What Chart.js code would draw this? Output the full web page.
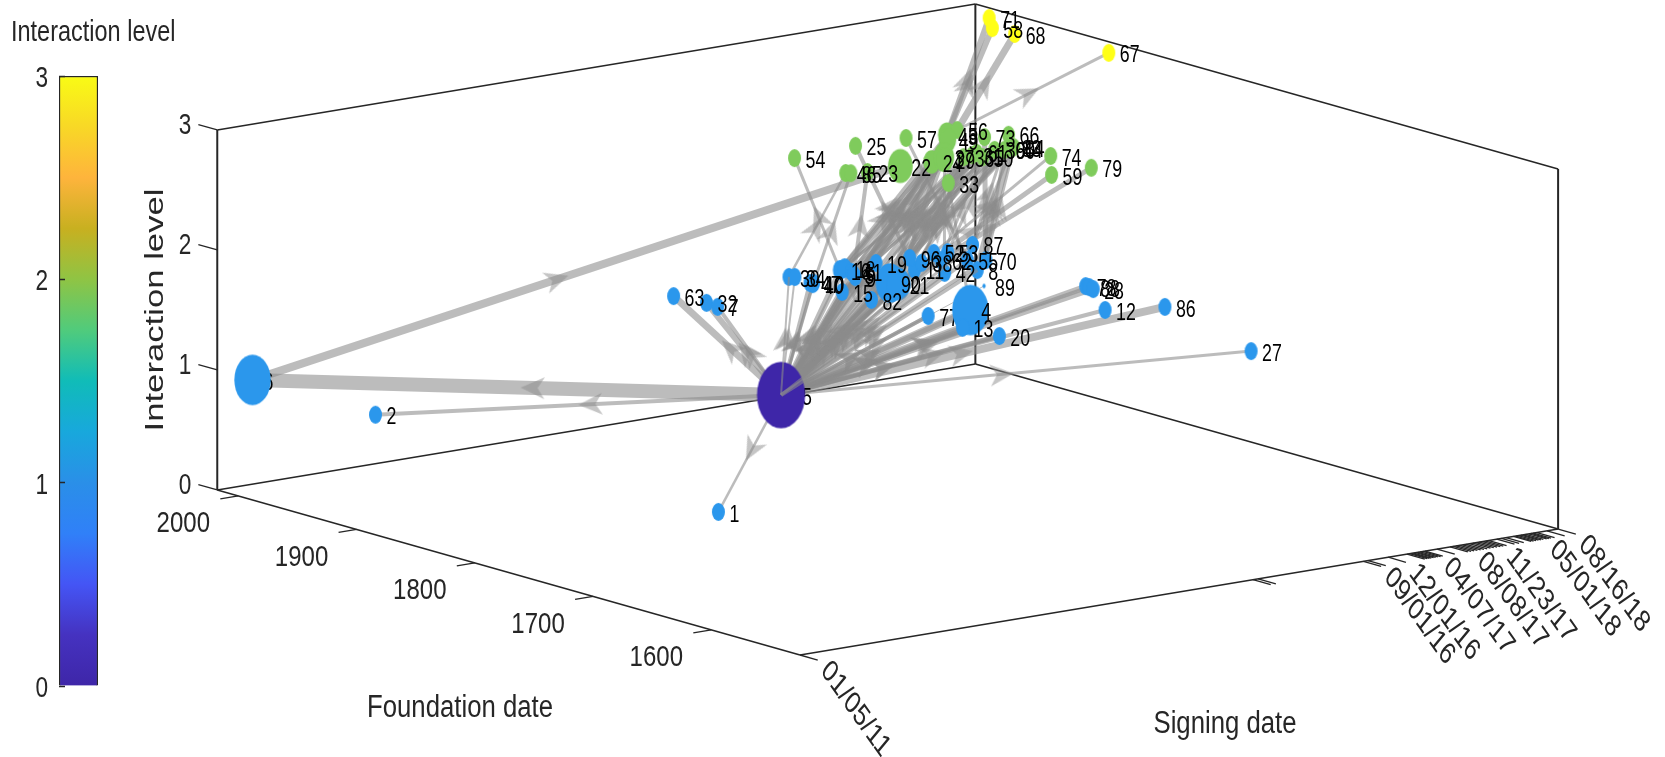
<!DOCTYPE html>
<html>
<head>
<meta charset="utf-8">
<title>Interaction level</title>
<script src="https://cdn.jsdelivr.net/npm/chart.js@4/dist/chart.umd.min.js"></script>
<style>
html, body { margin: 0; padding: 0; background: #fff; overflow: hidden; }
canvas { position: absolute; left: 0; top: 0; }
</style>
</head>
<body>
<canvas id="colorbar" width="99" height="757"></canvas>
<canvas id="network" width="1665" height="757"></canvas>
<script>
/*****
 data
******/
/* nodes, same order in every array. signingDay = days after 01/05/11 */
const nodeId = [35,
    1,2,6,63,32,7,30,34,47,40,10,16,18,41,9,5,15,82,19,90,21,11,96,38,52,53,62,42,55,87,70,8,89,4,13,77,20,78,88,28,12,86,27,
    54,25,57,46,85,23,22,45,56,49,24,37,29,33,36,31,61,50,73,66,60,83,84,44,39,74,59,79,
    71,58,68,67];
const signingDay = [2077,
    0,0,0,1657,1678,1671,2080,2093,2079,2076,2088,2254,2280,2266,2232,2252,2080,2083,2395,2264,2274,2428,2514,2501,2611,2649,2568,2473,2630,2766,2672,2571,2457,2229,2066,2083,2084,2691,2691,2684,2541,2704,2543,
    2083,2324,2505,2080,2090,2138,2263,2625,2688,2584,2369,2435,2416,2235,2482,2518,2547,2526,2693,2768,2636,2672,2679,2668,2613,2693,2540,2690,
    2697,2622,2626,2689];
const foundationYear = [2020,
    1594,1884,1988,2014,1991,1980,2014,2012,1996,1993,1995,2011,2013,2004,1993,1999,1969,1945,2013,1971,1966,1988,2012,1999,2014,2011,1998,1973,1990,2017,1984,1968,1936,1895,1864,1897,1837,1904,1901,1896,1853,1840,1730,
    2010,2014,2013,1966,1964,1961,1962,2006,2012,1996,1960,1965,1960,1915,1959,1960,1963,1953,1990,1987,1960,1963,1962,1961,1963,1934,1898,1899,
    1987,1967,1949,1884];
const interactionLevel = [0,
    1,1,1,1,1,1,1,1,1,1,1,1,1,1,1,1,1,1,1,1,1,1,1,1,1,1,1,1,1,1,1,1,1,1,1,1,1,1,1,1,1,1,1,
    2,2,2,2,2,2,2,2,2,2,2,2,2,2,2,2,2,2,2,2,2,2,2,2,2,2,2,2,
    3,3,3,3];
const nodeWeight = [3.7,
    1,1,2.8,1,1,1,1,1,1,1,1,1.1,1.1,1,1,1,1,1,1,2.2,1.8,1,1,1,1,1,1,1,1,1,1,1,0.25,2.8,1,1,1,1,1,1,1,1,1,
    1,1,1,1,1,1,1.9,1.4,1,1.3,1.3,1.6,1.3,1,1,1,1,1,1,1,1,1,1,1,1,1,1,1,
    1,1,1,1];
/* labels that sit under a node */
const coveredLabels = [35, 6, 77];

/* edges */
const edgeFrom = [35,35,35,35,35,35,35,35,35,35,35,35,35,35,35,35,35,35,35,35,35,35,35,35,35,35,35,35,35,35,35,35,35,35,35,35,35,35,35,35,35,35,35,
    16,11,55,30,10,5,6,21,19,90,90,21,42,4,38,96,11,62,70,87,70,8,70,55,53,52,21,21,
    45,45,56,56,
    35,35,35,35,35,35,16,18,41,9,5,18,41,16,9,5,15,82,90,90,21,
    35,35,35,35,35,35,35,35,35,
    35,35,35,35,35,35,35,16,18,41,9,90,21];
const edgeTo = [1,2,6,63,32,7,30,34,47,40,10,16,18,41,9,5,15,82,19,90,21,11,96,38,52,53,62,42,55,87,70,8,89,4,13,77,20,78,88,28,12,86,27,
    54,25,57,46,85,23,22,45,56,49,24,37,29,33,36,31,61,50,73,66,60,83,84,44,39,74,59,79,
    71,58,68,67,
    24,29,37,36,61,50,24,37,29,49,36,31,61,50,60,83,39,44,36,61,31,
    90,21,77,13,4,20,11,15,9,
    45,49,31,39,60,83,84,45,49,56,61,50,60];
const edgeWeight = [2.5,4,14,7,6,4,2,2,4,3,3,5,4,4,4,3,4,4,4,7,7,4,4,4,3,3,4,5,4,3,4,4,1,8,8,4,5,5,4,5,4,8,3,
    3,4,3,2.5,3,4,8,4,3,5,5,4,3,3,3,3,3,3,5,3,3,7,3,3,3,3,5,5,
    6,6,7,3,
    4,4,4,3,3,3,4,5,4,4,4,3,4,3,3,3,3,3,4,4,4,
    5,5,4,5,5,4,4,4,4,
    4,4,4,4,4,4,4,4,4,3,4,4,3];
const edgesOverNodes = [30, 87, 8];

/* axes */
const signingRange    = [0, 2780];
const foundationRange = [1525, 2017.8];
const levelRange      = [0, 3];
const signingTicks = [0,1661,1680,2066,2083,2157,2226,2235,2243,2250,2258,2266,2274,2284,2292,2336,
    2384,2396,2407,2419,2431,2443,2455,2467,2479,2491,2503,2514,2526,2555,2572,2589,
    2616,2625,2634,2643,2652,2661,2673,2681,2689,2702,2739,2780];
const signingLabelDays = [0,2066,2157,2284,2407,2514,2673,2780];
const signingLabels    = ['01/05/11','09/01/16','12/01/16','04/07/17','08/08/17','11/23/17','05/01/18','08/16/18'];
const foundationTicks  = [2000,1900,1800,1700,1600];
const levelTicks       = [0,1,2,3];

/* colormap, bottom to top */
const levelColors   = ['#3e26a8','#2b97ec','#7fcb5c','#ffff17'];
const colormapStops = ['#3e26a8','#4532c0','#4455f5','#3080f8','#2a8fe8','#18a8dc','#10bcb8','#50cb7c','#8fc444','#c8b020','#feb43c','#f8d826','#f9fb15'];

/*****
 func
******/
/* the picture is an orthographic view, so a date/year/level is a straight sum */
const project = (day, year, level)=>({
    x: 800 + 0.2727 * day - 1.1825 * (year - 1525),
    y: 655 - 0.04532 * day - 0.335 * (year - 1525) - 120 * level
});

const indexOfNode = (id)=> nodeId.indexOf(id);
const nodePoint = (id)=>{
    let i = indexOfNode(id);
    return project(signingDay[i], foundationYear[i], interactionLevel[i]);
};

const ellipseSprite = (width, height, color)=>{
    let c = document.createElement('canvas');
    c.width  = Math.ceil(width) + 2;
    c.height = Math.ceil(height) + 2;
    let ctx = c.getContext('2d');
    ctx.fillStyle = color;
    ctx.beginPath();
    ctx.ellipse(c.width / 2, c.height / 2, width / 2, height / 2, 0, 0, Math.PI * 2);
    ctx.fill();
    return c;
};

const arrowSprite = ()=>{
    let c = document.createElement('canvas');
    c.width = 30; c.height = 26;
    let ctx = c.getContext('2d');
    ctx.fillStyle = 'rgba(140,140,140,0.5)';
    ctx.translate(15, 13);
    ctx.beginPath();
    ctx.moveTo(12, 0);
    ctx.lineTo(-12, -11);
    ctx.lineTo(-5, 0);
    ctx.lineTo(-12, 11);
    ctx.closePath();
    ctx.fill();
    return c;
};

const lineSet = (from, to, color, width, order)=>({
    data: [from, to],
    showLine: true,
    borderColor: color,
    borderWidth: width,
    borderCapStyle: 'butt',
    pointRadius: 0,
    clip: false,
    order: order
});

/* box, ticks */
const axisColor = '#262626';
const boxSets = ()=>{
    let [d0, d1] = signingRange;
    let [y0, y1] = foundationRange;
    let [l0, l1] = levelRange;
    let sets = [];
    let add = (a, b, width)=> sets.push(lineSet(project(...a), project(...b), axisColor, width, 5));
    add([d0,y1,l0], [d0,y0,l0], 1.5);
    add([d0,y0,l0], [d1,y0,l0], 1.5);
    add([d0,y1,l0], [d1,y1,l0], 1.5);
    add([d1,y1,l0], [d1,y0,l0], 1.5);
    add([d0,y1,l1], [d1,y1,l1], 1.5);
    add([d1,y1,l1], [d1,y0,l1], 1.5);
    add([d0,y1,l0], [d0,y1,l1], 2);
    add([d1,y1,l0], [d1,y1,l1], 2);
    add([d1,y0,l0], [d1,y0,l1], 2);
    signingTicks.forEach((t)=> add([t,y0,l0], [t,y0-15,l0], 1.3));
    foundationTicks.forEach((t)=> add([d0,t,l0], [d0-66,t,l0], 1.3));
    levelTicks.forEach((t)=> add([d0,y1,t], [d0,y1+16,t], 1.3));
    return sets;
};

const edgeSets = ()=> edgeFrom.map((from, i)=>
    lineSet(nodePoint(from), nodePoint(edgeTo[i]), 'rgba(140,140,140,0.58)', edgeWeight[i],
        edgesOverNodes.includes(edgeTo[i]) ? -1 : 3));

const arrowSet = ()=>{
    let points = edgeFrom.map((from, i)=>{
        let a = nodePoint(from), b = nodePoint(edgeTo[i]);
        return {x: a.x + (b.x - a.x) * 0.47, y: a.y + (b.y - a.y) * 0.47};
    });
    let rotation = edgeFrom.map((from, i)=>{
        let a = nodePoint(from), b = nodePoint(edgeTo[i]);
        return Math.atan2(b.y - a.y, b.x - a.x) * 180 / Math.PI;
    });
    return {
        data: points,
        showLine: false,
        pointStyle: arrowSprite(),
        pointRadius: 5,
        pointRotation: rotation,
        clip: false,
        order: 2
    };
};

const nodeSet = ()=>({
    data: nodeId.map((id)=> nodePoint(id)),
    showLine: false,
    pointRadius: 5,
    pointStyle: nodeId.map((id, i)=>
        ellipseSprite(13 * nodeWeight[i], 18 * nodeWeight[i], levelColors[interactionLevel[i]])),
    clip: false,
    order: 0
});

/* text is squeezed in x like the rest of the picture */
const putText = (ctx, text, x, y, size, squeeze, angle, align, color)=>{
    ctx.save();
    ctx.translate(x, y);
    ctx.scale(squeeze, 1);
    ctx.rotate(angle);
    ctx.font = `${size}px "Liberation Sans", Arial, sans-serif`;
    ctx.fillStyle = color;
    ctx.textAlign = align;
    ctx.textBaseline = 'middle';
    ctx.fillText(text, 0, 0);
    ctx.restore();
};

const putNodeLabel = (chart, id)=>{
    let p = nodePoint(id);
    let sx = chart.scales.x.getPixelForValue(p.x);
    let sy = chart.scales.y.getPixelForValue(p.y);
    putText(chart.ctx, String(id), sx + 11, sy + 3, 24, 0.74, 0, 'left', '#000');
};

const textPlugin = {
    id: 'networkText',
    beforeDatasetDraw(chart, args){
        if(chart.data.datasets[args.index].order !== 0) return;
        coveredLabels.forEach((id)=> putNodeLabel(chart, id));
    },
    afterDatasetsDraw(chart){
        let ctx = chart.ctx;
        let sx = chart.scales.x, sy = chart.scales.y;
        let at = (p)=> ({x: sx.getPixelForValue(p.x), y: sy.getPixelForValue(p.y)});
        nodeId.filter((id)=> !coveredLabels.includes(id)).forEach((id)=> putNodeLabel(chart, id));
        /* level ticks */
        levelTicks.forEach((t)=>{
            let p = at(project(signingRange[0], foundationRange[1] + 16, t));
            putText(ctx, String(t), p.x - 7, p.y + 1, 29, 0.78, 0, 'right', axisColor);
        });
        /* foundation ticks */
        foundationTicks.forEach((t)=>{
            let p = at(project(signingRange[0] - 66, t, 0));
            putText(ctx, String(t), p.x - 37, p.y + 25, 30, 0.8, 0, 'center', axisColor);
        });
        /* signing ticks */
        signingLabels.forEach((t, i)=>{
            let p = at(project(signingLabelDays[i], foundationRange[0] - 15, 0));
            putText(ctx, t, p.x + 7, p.y + 6, 31, 0.76, 47 * Math.PI / 180, 'left', axisColor);
        });
        /* titles */
        putText(ctx, 'Interaction level', 11, 33, 29, 0.81, 0, 'left', axisColor);
        putText(ctx, 'Foundation date', 460, 708, 31, 0.83, 0, 'center', axisColor);
        putText(ctx, 'Signing date', 1225, 724, 31, 0.83, 0, 'center', axisColor);
        putText(ctx, 'Interaction level', 156, 310, 34.7, 0.72, -Math.PI / 2, 'center', axisColor);
    }
};

const colorbarText = {
    id: 'colorbarText',
    afterDraw(chart){
        levelTicks.forEach((t)=>{
            putText(chart.ctx, String(t), 48, chart.scales.y.getPixelForValue(t) + 3, 29, 0.78, 0, 'right', axisColor);
        });
    }
};

/*************
INITIALIZATION
**************/
new Chart(document.querySelector('#network').getContext('2d'), {
    type: 'scatter',
    data: { datasets: [nodeSet(), arrowSet(), ...edgeSets(), ...boxSets()] },
    options: {
        responsive: false,
        animation: false,
        devicePixelRatio: 1,
        events: [],
        layout: { padding: 0, autoPadding: false },
        elements: { line: { tension: 0 } },
        plugins: { legend: { display: false }, tooltip: { enabled: false } },
        scales: {
            x: { type: 'linear', min: 0, max: 1665, display: false },
            y: { type: 'linear', min: 0, max: 757, reverse: true, display: false }
        }
    },
    plugins: [textPlugin]
});

new Chart(document.querySelector('#colorbar').getContext('2d'), {
    type: 'bar',
    data: {
        labels: ['Interaction level'],
        datasets: [{
            data: [levelRange[1]],
            barPercentage: 1,
            categoryPercentage: 1,
            borderColor: axisColor,
            borderWidth: 1.5,
            backgroundColor: (context)=>{
                let area = context.chart.chartArea;
                if(!area) return colormapStops[0];
                let g = context.chart.ctx.createLinearGradient(0, area.bottom, 0, area.top);
                colormapStops.forEach((c, i)=> g.addColorStop(i / (colormapStops.length - 1), c));
                return g;
            }
        }]
    },
    options: {
        responsive: false,
        animation: false,
        devicePixelRatio: 1,
        events: [],
        layout: { padding: { top: 76, bottom: 71, right: 1, left: 0 } },
        plugins: { legend: { display: false }, tooltip: { enabled: false } },
        scales: {
            x: { display: false },
            y: {
                min: levelRange[0],
                max: levelRange[1],
                afterFit: (scale)=>{ scale.width = 59; },
                grid: { z: 1, drawOnChartArea: false, tickLength: -6, tickColor: axisColor, tickWidth: 1.5 },
                border: { display: false },
                ticks: { stepSize: 1, display: false }
            }
        }
    },
    plugins: [colorbarText]
});
</script>
</body>
</html>
